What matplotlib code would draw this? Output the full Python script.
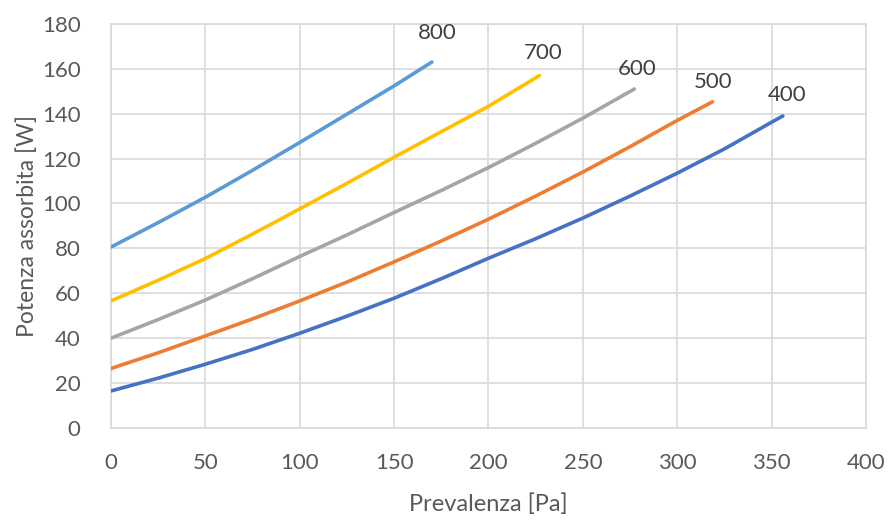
import matplotlib
matplotlib.use("Agg")
import matplotlib.pyplot as plt

# Data
x_400 = [0, 25, 50, 75, 100, 125, 150, 175, 200, 225, 250, 275, 300, 325, 350, 356]
y_400 = [16.5, 22.2, 28.4, 35, 42.2, 49.8, 57.8, 66.5, 75.6, 84.3, 93.5, 103.3, 113.5, 124.3, 136.2, 139]
x_500 = [0, 25, 50, 75, 100, 125, 150, 175, 200, 225, 250, 275, 300, 318.7]
y_500 = [26.5, 33.5, 41, 48.6, 56.6, 65, 74, 83.3, 93, 103.3, 114, 125.3, 137, 145.3]
x_600 = [0, 25, 50, 75, 100, 125, 150, 175, 200, 225, 250, 277.3]
y_600 = [40, 48.3, 57, 66.5, 76.4, 86, 96, 105.8, 116, 126.8, 138, 151]
x_700 = [0, 25, 50, 75, 100, 125, 150, 175, 200, 227]
y_700 = [56.6, 65.8, 75.5, 86.4, 97.6, 109, 120.6, 132, 143.3, 157]
x_800 = [0, 25, 50, 75, 100, 125, 150, 170]
y_800 = [80.6, 91.5, 102.8, 114.8, 127.2, 139.8, 152.4, 163]

series = [
    ("400", x_400, y_400, "#4472C4", (358, 148.5)),
    ("500", x_500, y_500, "#ED7D31", (319, 154)),
    ("600", x_600, y_600, "#A5A5A5", (279, 160)),
    ("700", x_700, y_700, "#FFC000", (229, 167)),
    ("800", x_800, y_800, "#5B9BD5", (173, 176)),
]

plt.rcParams['font.family'] = ['Lato', 'DejaVu Sans']

fig = plt.figure(figsize=(8.89, 5.20), dpi=100)
ax = fig.add_axes([0.1249, 0.177, 0.8491, 0.777])

for name, xs, ys, c, lab in series:
    ax.plot(xs, ys, color=c, lw=2.6, solid_capstyle='round',
            solid_joinstyle='round', zorder=3)
    ax.text(lab[0], lab[1], name, color="#404040", fontsize=16,
            ha='center', va='center', zorder=4)

ax.set_xlim(0, 400)
ax.set_ylim(0, 180)
ax.set_xticks(range(0, 401, 50))
ax.set_yticks(range(0, 181, 20))
ax.grid(True, color="#D9D9D9", lw=1.2)
ax.set_axisbelow(True)
for s in ax.spines.values():
    s.set_color("#D9D9D9")
    s.set_linewidth(1.2)
ax.tick_params(length=0, labelsize=16, labelcolor="#595959")
ax.tick_params(axis='y', pad=22)
ax.tick_params(axis='x', pad=18)
ax.set_xlabel("Prevalenza [Pa]", fontsize=17, color="#595959", labelpad=15)
ax.set_ylabel("Potenza assorbita [W]", fontsize=16.5, color="#595959", labelpad=3)

fig.savefig("out.png", dpi=100)
